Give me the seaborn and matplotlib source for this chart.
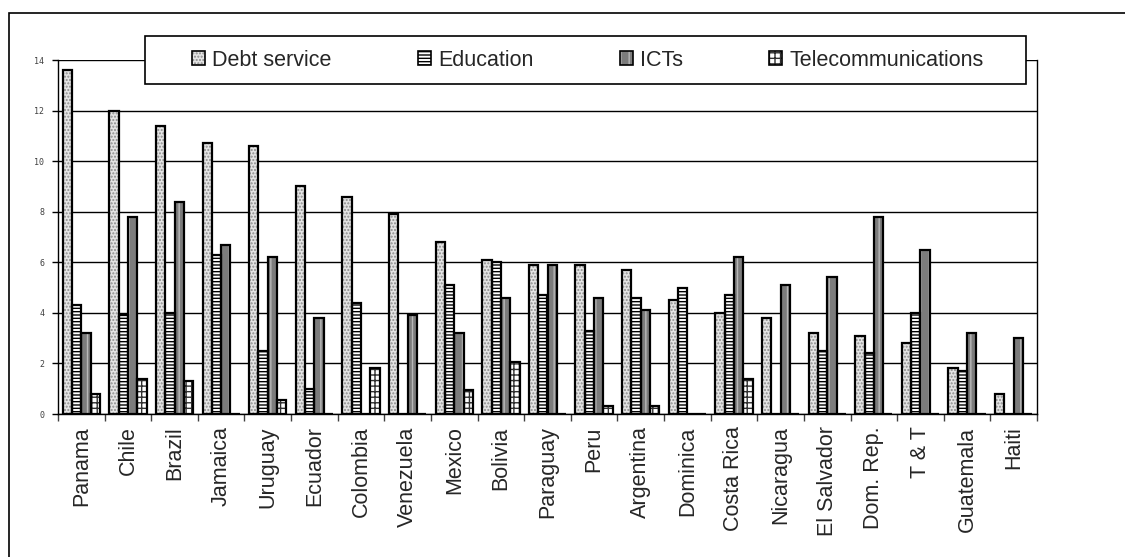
import numpy as np
import pandas as pd
import matplotlib
matplotlib.use("Agg")
import matplotlib.pyplot as plt
from matplotlib.patches import Patch, Rectangle
from matplotlib.legend_handler import HandlerTuple
import seaborn as sns

countries = ["Panama", "Chile", "Brazil", "Jamaica", "Uruguay", "Ecuador", "Colombia",
             "Venezuela", "Mexico", "Bolivia", "Paraguay", "Peru", "Argentina", "Dominica",
             "Costa Rica", "Nicaragua", "El Salvador", "Dom. Rep.", "T & T", "Guatemala", "Haiti"]
series = ["Debt service", "Education", "ICTs", "Telecommunications"]

debt_service = [13.6, 12.0, 11.4, 10.7, 10.6, 9.0, 8.6, 7.9, 6.8, 6.1, 5.9, 5.9, 5.7, 4.5,
                4.0, 3.8, 3.2, 3.1, 2.8, 1.8, 0.8]
education = [4.3, 3.9, 4.0, 6.3, 2.5, 1.0, 4.4, 0.0, 5.1, 6.0, 4.7, 3.3, 4.6, 5.0,
             4.7, 0.0, 2.5, 2.4, 4.0, 1.7, 0.0]
icts = [3.2, 7.8, 8.4, 6.7, 6.2, 3.8, 0.0, 3.9, 3.2, 4.6, 5.9, 4.6, 4.1, 0.0,
        6.2, 5.1, 5.4, 7.8, 6.5, 3.2, 3.0]
telecom = [0.8, 1.4, 1.3, 0.0, 0.55, 0.0, 1.8, 0.0, 0.95, 2.05, 0.0, 0.3, 0.3, 0.0,
           1.4, 0.0, 0.0, 0.0, 0.0, 0.0, 0.0]

yticks = [0, 2, 4, 6, 8, 10, 12, 14]

# fill / hatch / hatch colour per series (mimics the old Excel patterns)
styles = {
    "Debt service": ("#e4e4e4", "." * 5, "#8c8c8c"),
    "Education": ("#ffffff", "-" * 5, "#000000"),
    "ICTs": ("#7c7c7c", "|" * 2, "#b8b8b8"),
    "Telecommunications": ("#ffffff", "+" * 3, "#303030"),
}

df = pd.DataFrame({
    "country": np.repeat(countries, 4),
    "series": series * len(countries),
    "value": np.ravel(np.column_stack([debt_service, education, icts, telecom])),
})

sns.set_style("white")
plt.rcParams["font.family"] = ["Liberation Sans", "DejaVu Sans"]
plt.rcParams["hatch.linewidth"] = 1.0

fig = plt.figure(figsize=(11.25, 5.57), dpi=100)
ax = fig.add_axes([58 / 1125, 1 - 414 / 557, (1037 - 58) / 1125, (414 - 60) / 557])

# pass 1: patterned fill, no outline
sns.barplot(data=df, x="country", y="value", hue="series", hue_order=series,
            order=countries, palette=["#ffffff"] * 4, width=0.8, errorbar=None,
            legend=False, ax=ax, zorder=2)
for name, cont in zip(series, ax.containers):
    fc, h, hc = styles[name]
    for bar in cont:
        bar.set_facecolor(fc)
        bar.set_hatch(h)
        bar.set_edgecolor(hc)
        bar.set_linewidth(0)

# pass 2: black outlines
sns.barplot(data=df, x="country", y="value", hue="series", hue_order=series,
            order=countries, palette=["#000000"] * 4, width=0.8, errorbar=None,
            fill=False, linewidth=1.6, legend=False, ax=ax, zorder=3)

ax.set_xlim(-0.5, len(countries) - 0.5)
ax.set_ylim(0, 14)
ax.set_yticks(yticks)
ax.set_yticklabels([str(v) for v in yticks], fontsize=6, color="#404040",
                   family="DejaVu Sans Mono")
ax.yaxis.grid(True, color="black", linewidth=1.0, zorder=0)
ax.set_axisbelow(True)
ax.tick_params(axis="y", direction="out", length=4, width=1, color="black", pad=6, left=True)

ax.set_xticks(range(len(countries)))
ax.set_xticklabels(countries, rotation=90, fontsize=15.5, va="top", ha="center")
ax.set_xticks(np.arange(-0.5, len(countries)), minor=True)
ax.tick_params(axis="x", which="major", length=0, pad=9)
ax.tick_params(axis="x", which="minor", direction="out", length=5, width=1,
               color="#404040", bottom=True)
ax.set_xlabel("")
ax.set_ylabel("")
for side in ["left", "right", "bottom"]:
    ax.spines[side].set_visible(True)
    ax.spines[side].set_color("black")
    ax.spines[side].set_linewidth(1.0)
ax.spines["top"].set_visible(False)

# outer chart border (left/top visible, rest cropped off)
fig.patches.append(Rectangle((9 / 1125, -0.2), 1.2, 0.2 + 1 - 12.5 / 557,
                             transform=fig.transFigure, fill=False,
                             edgecolor="black", linewidth=1.2, zorder=1))

# legend box
fig.patches.append(Rectangle((145 / 1125, 1 - 84 / 557), 881 / 1125, 48 / 557,
                             transform=fig.transFigure, facecolor="white",
                             edgecolor="black", linewidth=1.2, zorder=2))
handles = []
for name in series:
    fc, h, hc = styles[name]
    handles.append((Patch(facecolor=fc, hatch=h, edgecolor=hc, linewidth=0),
                    Patch(fill=False, edgecolor="black", linewidth=1.2)))
leg = fig.legend(handles, series, loc="center", bbox_to_anchor=(588 / 1125, 1 - 60 / 557),
                 ncol=4, frameon=False, fontsize=15.5, handlelength=0.6,
                 handleheight=0.6, handletextpad=0.35, columnspacing=4.0,
                 handler_map={tuple: HandlerTuple(ndivide=1)})
leg.set_zorder(3)

fig.savefig("out.png", dpi=100)
